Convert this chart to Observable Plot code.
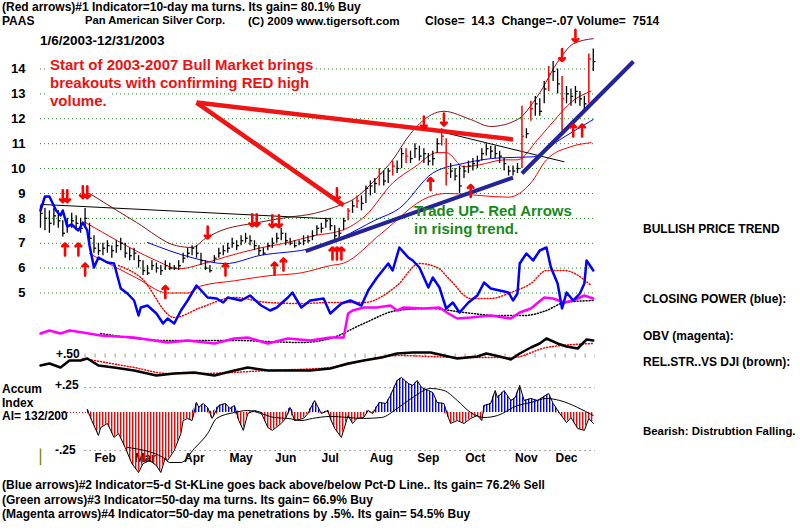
<!DOCTYPE html>
<html><head><meta charset="utf-8">
<script src="https://cdn.jsdelivr.net/npm/d3@7"></script>
<script src="https://cdn.jsdelivr.net/npm/@observablehq/plot@0.6"></script>
<style>
body{margin:0;background:#fff;}
#wrap{position:relative;width:800px;height:530px;overflow:hidden;background:#fff;font-family:"Liberation Sans",Arial,sans-serif;}
#wrap svg{position:absolute;left:0;top:0;background:transparent;}
.t{position:absolute;font-weight:bold;font-size:12px;color:#000;white-space:pre;line-height:1;}
</style></head><body><div id="wrap"></div>
<script>
// ---------- DATA ----------
const priceTicks = [5,6,7,8,9,10,11,12,13,14];
// two-trading-day bars (close, high, low), Jan 6 .. Dec 31 2003
const close = [8.2,8.0,7.8,8.1,7.9,7.4,7.7,7.9,7.8,7.6, 8.0,7.2,6.8,6.7,6.8,6.9,6.7,6.9,7.0,6.6,
 6.5,6.6,6.3,5.9,5.8,6.1,6.0,5.9,6.1,6.0, 6.0,6.1,6.4,6.6,6.8,6.6,6.3,6.0,5.9,6.4,
 6.6,6.7,6.8,7.0,6.9,7.1,7.2,7.1,6.9,6.7, 6.6,6.9,7.0,7.2,7.4,7.1,7.0,6.9,7.0,7.1,
 7.1,7.3,7.6,7.6,7.9,7.7,7.3,7.4,7.9,8.3, 8.5,8.7,8.6,9.2,9.3,9.4,9.8,9.5,9.9,10.1,
 10.0,10.6,10.5,10.4,10.8,10.5,10.6,10.3,10.4,11.0, 11.3,9.8,9.9,9.7,9.3,9.9,10.1,10.2,10.3,10.6,
 10.8,10.7,10.6,10.5,10.2,9.9,9.9,10.0,11.3,11.4, 12.4,12.6,12.3,13.2,13.8,13.9,13.4,12.8,13.0,12.9,
 13.1,12.8,12.6,14.4,14.3];
const high = [8.5,8.4,8.3,8.4,8.3,7.9,8.0,8.2,8.1,8.0, 8.4,7.8,7.3,7.0,7.0,7.1,6.9,7.1,7.2,7.0,
 6.8,6.8,6.5,6.3,6.1,6.3,6.2,6.1,6.3,6.2, 6.1,6.3,6.6,6.8,6.9,6.9,6.6,6.3,6.1,6.5,
 6.8,6.9,7.0,7.2,7.1,7.3,7.4,7.3,7.1,6.9, 6.8,7.0,7.2,7.4,7.6,7.4,7.2,7.1,7.1,7.3,
 7.3,7.5,7.7,7.8,8.0,8.0,7.7,7.6,8.0,8.4, 8.7,8.9,8.9,9.3,9.5,9.6,10.0,9.9,10.0,10.3,
 10.3,10.8,10.8,10.7,11.0,10.9,10.8,10.6,10.7,11.2, 11.6,11.2,10.2,10.0,10.1,10.1,10.3,10.4,10.5,10.8,
 11.0,10.9,10.9,10.7,10.4,10.1,10.1,10.2,12.5,11.6, 12.7,12.9,12.8,13.5,14.1,14.3,14.0,13.7,13.3,13.2,
 13.3,13.1,12.9,14.6,14.8];
const low = [7.6,7.5,7.4,7.7,7.6,7.25,7.4,7.6,7.5,7.4, 7.6,7.0,6.6,6.5,6.5,6.6,6.4,6.6,6.7,6.4,
 6.3,6.3,6.0,5.7,5.7,5.9,5.8,5.7,5.9,5.9, 5.9,5.9,6.2,6.4,6.5,6.4,6.1,5.9,5.8,6.2,
 6.4,6.5,6.6,6.8,6.7,6.9,7.0,6.9,6.7,6.5, 6.5,6.7,6.8,7.0,7.1,6.9,6.9,6.8,6.9,6.9,
 7.0,7.1,7.3,7.4,7.6,7.5,7.1,7.2,7.5,7.9, 8.2,8.4,8.3,8.6,8.9,9.0,9.3,9.3,9.4,9.7,
 9.8,10.0,10.2,10.2,10.4,10.3,10.2,10.1,10.1,10.6, 10.9,9.3,9.6,9.5,9.0,9.6,9.8,9.9,10.0,10.3,
 10.5,10.4,10.4,10.2,9.9,9.7,9.7,9.8,10.0,11.2, 11.9,12.1,12.1,12.6,13.1,13.5,13.0,11.5,12.6,12.5,
 12.6,12.5,12.3,12.6,13.9];
const redBars = [69,71,76,79,82,90,91,108,110,114,117,123];

// bands & moving averages: [trading day, price]
const upperBand = [[22,9.0],[43,7.84],[61,6.9],[68,6.83],[74,7.19],[79,7.43],[98,7.84],[111,8.04],[123,8.2],[132,8.45],[141,8.8],[150,9.54],[159,10.47],[164,11.16],[170,11.8],[181,12.3],[193,11.97],[202,11.69],[214,11.97],[223,12.91],[233,14.41],[239,15.01],[248,15.22]];
const ma21 = [[20,7.84],[28,7.43],[41,6.78],[52,6.3],[62,5.97],[73,6.18],[83,6.45],[98,6.8],[109,6.99],[123,7.31],[135,7.51],[146,8.12],[158,9.42],[168,10.07],[178,10.64],[182,10.64],[190,10.07],[197,10.15],[208,10.35],[214,10.35],[223,11.16],[232,12.09],[238,12.66],[247,13.11]];
const lowerBand = [[22,6.58],[43,5.61],[57,5.0],[66,5.0],[72,5.28],[87,5.49],[102,5.69],[117,5.81],[130,6.1],[136,6.2],[153,7.4],[174,8.85],[182,9.0],[210,8.85],[220,9.42],[227,10.35],[238,10.88],[247,11.04]];
const ma50 = [[48,7.03],[68,6.42],[83,6.18],[98,6.5],[123,6.83],[135,7.23],[150,7.92],[161,8.4],[176,9.82],[191,10.23],[206,10.43],[221,10.47],[233,11.16],[248,11.97]];

// signal arrows: [trading day, price at arrow tip]
const downArrows = [[10,8.65],[12,8.65],[19,8.81],[21,8.81],[75,7.19],[95,7.68],[97,7.68],[104,7.64],[107,7.64],[133,8.73],[172,11.61],[181,11.73],[234,14.32],[240,15.09]];
const upArrows = [[11,6.99],[17,6.99],[20,6.18],[56,5.28],[83,6.18],[105,6.22],[109,6.38],[131,6.83],[133,6.83],[135,6.83],[175,9.62],[193,9.34],[239,11.77],[243,11.77]];

// drawn trend lines: [day1, price1, day2, price2]
const redTrend = [[70,12.65,136,8.52],[70,12.65,212,11.17]];
const blueTrend = [[119,6.68,212,9.64],[216,9.8,266,14.3]];
const blackTrend = [[0,8.56,130,7.98],[181,11.45,235,10.27]];

// indicators (arbitrary units): [trading day, value]
const closingPower = [[0,85],[2,92],[4,92],[7,85],[9,82.5],[10,85],[12,77],[14,78],[17,75],[19,79],[21,75],[22,67.5],[24,56.5],[26,61.5],[30,59],[33,58.5],[36,46],[39,43.5],[42,40],[44,32.5],[45,36.5],[48,37.5],[52,33.5],[55,28.5],[57,31],[60,28.5],[63,35],[66,40],[70,47.5],[75,41.5],[79,41],[82,39],[84,41.5],[90,40],[94,42.5],[99,37.5],[103,35],[106,36.5],[111,41.5],[113,44],[117,36.5],[121,40],[127,41],[130,33.5],[135,38.5],[139,40],[144,37.5],[147,45],[151,51.5],[156,58.5],[158,55],[161,66.5],[165,61.5],[167,60],[170,56.5],[174,46.5],[176,51.5],[179,46.5],[182,36],[185,39],[188,34],[192,39],[196,42.5],[199,49],[202,46],[206,45],[210,44],[212,40],[214,43.5],[215,58.5],[218,63.5],[221,60],[224,65],[227,66.5],[229,56.5],[232,48.5],[234,36],[236,44],[239,40],[242,43.5],[244,48.5],[245,60],[248,55]];
const closingPowerMa = [[35,57.5],[45,51.5],[60,31.5],[72,36.5],[87,41.5],[102,39],[117,38.5],[130,39],[145,39],[160,47.5],[170,58.5],[178,56.5],[184,50],[193,41],[202,41],[211,44],[220,48.5],[227,55],[235,55],[247,47.5]];
const obv = [[0,23.5],[4,25],[9,23.5],[13,25],[19,24],[27,22.5],[42,21.5],[57,19],[66,20],[78,18.5],[87,21],[93,21.5],[102,18.5],[111,21],[121,20],[130,21.5],[136,21.5],[138,33.5],[140,35],[145,36.5],[151,36.5],[157,37.5],[160,35],[163,36.5],[172,36],[179,36.5],[183,33.5],[187,31],[193,31.5],[202,32.5],[211,31],[215,34],[220,36],[226,41.5],[230,41],[235,39],[239,40],[244,42.5],[248,41]];
const obvMa = [[27,23.5],[57,20],[87,20],[117,19],[130,21],[145,28.5],[160,35],[175,36],[190,34],[205,32.5],[217,32.5],[227,35],[235,39],[248,40]];
const relStr = [[0,7.5],[4,8.5],[9,6.5],[13,10],[18,10],[21,11],[26,7.5],[33,6.5],[42,5],[52,2.5],[60,3.5],[69,4],[78,2.5],[87,5],[93,6.5],[102,5],[111,5],[121,5],[130,6],[138,8.5],[145,10],[153,11.5],[160,13.5],[167,14],[175,14],[181,12.5],[187,11],[196,12],[200,13.5],[206,12],[211,10.5],[215,13.5],[220,16.5],[224,18.5],[227,21],[232,18.5],[236,17],[241,16],[245,20.5],[248,20]];
const relStrMa = [[19,11],[42,6.5],[57,3.5],[72,3.5],[102,5],[130,6.5],[160,12.5],[190,11.5],[212,11.5],[227,16.5],[248,18.5]];
const relStrRef = [12.5];

// Accumulation index: [trading day, AI]
const accum = [[21,0.03],[23,-0.053],[26,-0.151],[27,-0.099],[30,-0.072],[33,-0.164],[35,-0.138],[38,-0.23],[41,-0.336],[44,-0.395],[46,-0.336],[49,-0.316],[52,-0.349],[54,-0.395],[56,-0.296],[57,-0.316],[60,-0.25],[63,-0.138],[64,-0.053],[66,-0.039],[68,-0.053],[70,0.10],[71,0.05],[73,0.09],[75,0.05],[77,-0.039],[80,0.07],[83,0.09],[85,0.04],[87,0.07],[89,-0.053],[91,-0.118],[93,-0.007],[96,0.02],[99,0],[102,-0.099],[104,-0.118],[108,-0.072],[110,-0.039],[112,0.05],[114,-0.053],[118,-0.039],[120,-0.007],[123,0.12],[126,-0.007],[129,0.02],[130,-0.039],[132,-0.105],[135,-0.164],[138,-0.02],[140,-0.072],[142,-0.039],[145,-0.033],[147,0.02],[149,-0.007],[152,0.10],[155,0.09],[157,0.17],[160,0.32],[162,0.35],[165,0.29],[167,0.27],[169,0.32],[171,0.25],[174,0.22],[176,0.20],[178,0.10],[181,0.09],[183,-0.033],[184,-0.072],[187,-0.053],[190,-0.072],[193,-0.039],[196,-0.02],[198,-0.053],[199,0.07],[202,0.09],[204,0.22],[205,0.15],[208,0.22],[211,0.12],[213,0.15],[215,0.27],[217,0.12],[220,0.14],[223,0.12],[228,0.19],[230,0.09],[233,-0.007],[236,-0.066],[238,-0.033],[241,-0.105],[244,-0.118],[246,-0.039],[248,-0.072]];
const accumMa = [[39,-0.23],[55,-0.296],[58,-0.329],[63,-0.329],[69,-0.237],[75,-0.138],[79,-0.039],[87,0],[93,0.02],[99,-0.007],[105,-0.033],[111,-0.039],[117,-0.053],[122,-0.039],[130,-0.026],[145,-0.039],[153,-0.033],[160,0.04],[167,0.15],[175,0.24],[181,0.22],[187,0.12],[193,0],[199,-0.033],[205,-0.02],[214,0.07],[220,0.10],[227,0.14],[233,0.12],[241,0.05],[248,-0.02]];
const aiTicks = [0.25, -0.25];
const monthNames = ["Feb","Mar","Apr","May","Jun","Jul","Aug","Sep","Oct","Nov","Dec"];
const monthDay = [29,47,69,90,110,130,153,174,195,218,236];

// ---------- DRAW ----------
const FONT = '"Liberation Sans", Arial, sans-serif';
const wrap = document.getElementById("wrap");
const bars = close.map((c, k) => ({i: 2 * k, c, h: high[k], l: low[k], red: redBars.includes(k)}));
const X = {domain: [0, 249], axis: null};
const base = {width: 800, height: 530, marginLeft: 40, marginRight: 205, marginTop: 0,
  style: {background: "transparent", fontFamily: FONT}};
const px = d => d[0], py = d => d[1];

const pricePlot = Plot.plot({...base, marginBottom: 0, x: X,
  y: {domain: [5, 14], range: [292.5, 68.5], axis: null},
  marks: [
    Plot.ruleY(priceTicks, {stroke: "#1e8c1e", strokeDasharray: "1,3"}),
    Plot.text(priceTicks, {y: d => d, frameAnchor: "left", textAnchor: "end", dx: -15, text: d => String(d), fontSize: 13, fontWeight: "bold", fill: "black"}),
    Plot.line(upperBand, {x: px, y: py, stroke: "#8b1010", strokeWidth: 1, curve: "monotone-x"}),
    Plot.line(lowerBand, {x: px, y: py, stroke: "#ff0000", strokeWidth: 1, curve: "monotone-x"}),
    Plot.line(ma21, {x: px, y: py, stroke: "#ff0000", strokeWidth: 1, curve: "monotone-x"}),
    Plot.line(ma50, {x: px, y: py, stroke: "#0000ff", strokeWidth: 1, curve: "monotone-x"}),
    Plot.link(blackTrend, {x1: d => d[0], y1: d => d[1], x2: d => d[2], y2: d => d[3], stroke: "black", strokeWidth: 1}),
    Plot.ruleX(bars.filter(d => !d.red), {x: "i", y1: "l", y2: "h", stroke: "black", strokeWidth: 1.3}),
    Plot.link(bars.filter(d => !d.red), {x1: "i", x2: d => d.i + 1, y1: "c", y2: "c", stroke: "black", strokeWidth: 1.3}),
    Plot.ruleX(bars.filter(d => d.red), {x: "i", y1: "l", y2: "h", stroke: "#ff0000", strokeWidth: 1.5}),
    Plot.link(bars.filter(d => d.red), {x1: "i", x2: d => d.i + 1, y1: "c", y2: "c", stroke: "#ff0000", strokeWidth: 1.3}),
    Plot.link(redTrend, {x1: d => d[0], y1: d => d[1], x2: d => d[2], y2: d => d[3], stroke: "#f01414", strokeWidth: 4.5}),
    Plot.link(blueTrend, {x1: d => d[0], y1: d => d[1], x2: d => d[2], y2: d => d[3], stroke: "#24249a", strokeWidth: 4}),
    Plot.arrow(downArrows, {x1: px, x2: px, y1: d => d[1] + 0.48, y2: py, stroke: "#ff0000", strokeWidth: 2.6, headLength: 5, headAngle: 90}),
    Plot.arrow(upArrows, {x1: px, x2: px, y1: d => d[1] - 0.48, y2: py, stroke: "#ff0000", strokeWidth: 2.6, headLength: 5, headAngle: 90})
  ]
});

const indPlot = Plot.plot({...base, marginBottom: 0, x: X,
  y: {domain: [0, 95], range: [380, 190], axis: null},
  marks: [
    Plot.ruleY(relStrRef, {x1: () => 20, x2: () => 249, stroke: "#999", strokeWidth: 4, strokeDasharray: "1,9"}),
    Plot.line(relStrMa, {x: px, y: py, stroke: "#ff0000", strokeDasharray: "1,2", curve: "monotone-x"}),
    Plot.line(relStr, {x: px, y: py, stroke: "black", strokeWidth: 2.5}),
    Plot.line(obvMa, {x: px, y: py, stroke: "black", strokeDasharray: "1,2", curve: "monotone-x"}),
    Plot.line(obv, {x: px, y: py, stroke: "#ff00ff", strokeWidth: 2.5}),
    Plot.line(closingPowerMa, {x: px, y: py, stroke: "#ff0000", strokeDasharray: "1,2", curve: "monotone-x"}),
    Plot.line(closingPower, {x: px, y: py, stroke: "#0000ff", strokeWidth: 2.5})
  ]
});

// AI axis: the negative half is drawn 1.52x taller than the positive half, as in the source chart
const aiStretch = v => (v < 0 ? v * 1.52 : v);
const aiPlot = Plot.plot({...base, marginBottom: 72.5, x: X,
  y: {domain: [-0.38, 0.25], range: [450, 387], transform: aiStretch, axis: null},
  marks: [
    Plot.ruleY(aiTicks, {x1: () => 20, x2: () => 249, stroke: "#555", strokeDasharray: "1,4"}),
    Plot.ruleY([0], {x1: () => 0, x2: () => 21, stroke: "#ff0000", strokeDasharray: "1,2"}),
    Plot.ruleX([0], {y1: () => -0.24, y2: () => -0.35, stroke: "#8b8b20", strokeWidth: 1.5}),
    Plot.text(monthNames, {x: (d, i) => monthDay[i], frameAnchor: "bottom", lineAnchor: "middle", text: d => d, fontWeight: "bold", fontSize: 12, fill: "black"}),
    Plot.areaY(accum, {x: px, y1: () => 0, y2: d => Math.max(0, d[1]), fill: "url(#bstripe)"}),
    Plot.areaY(accum, {x: px, y1: () => 0, y2: d => Math.min(0, d[1]), fill: "url(#rstripe)"}),
    Plot.line(accum, {x: px, y: py, stroke: "black", strokeWidth: 1}),
    Plot.line(accumMa, {x: px, y: py, stroke: "black", strokeWidth: 1, curve: "monotone-x"})
  ]
});
const defs = d3.select(aiPlot).insert("defs", ":first-child");
[["bstripe", "#0000ff"], ["rstripe", "#ff0000"]].forEach(([id, c]) => {
  defs.append("pattern").attr("id", id).attr("patternUnits", "userSpaceOnUse")
    .attr("width", 3).attr("height", 4)
    .append("rect").attr("x", 0).attr("y", 0).attr("width", 1.4).attr("height", 4).attr("fill", c);
});

wrap.append(pricePlot, indPlot, aiPlot);

// ---------- TEXT ----------
const texts = [
  ["(Red arrows)#1 Indicator=10-day ma turns. Its gain= 80.1% Buy", 2, 0.5],
  ["PAAS", 2, 15],
  ["Pan American Silver Corp.", 85, 15, "11.2px"],
  ["(C) 2009 www.tigersoft.com", 248, 15, "11.6px"],
  ["Close=  14.3  Change=-.07 Volume=  7514", 425, 15],
  ["BULLISH PRICE TREND", 643, 223],
  ["CLOSING POWER (blue):", 643, 293],
  ["OBV (magenta):", 643, 330],
  ["REL.STR..VS DJI (brown):", 643, 356],
  ["Bearish: Distrubtion Falling.", 643, 425.5, "11.4px"],
  ["Accum", 2, 382.5],
  ["Index", 2, 396.5],
  ["AI= 132/200", 2, 410],
  ["+.25", 55, 379],
  ["-.25", 55, 444],
  ["+.50", 56, 348],
  ["(Blue arrows)#2 Indicator=5-d St-KLine goes back above/below Pct-D Line.. Its gain= 76.2% Sell", 2, 479],
  ["(Green arrows)#3 Indicator=50-day ma turns. Its gain= 66.9% Buy", 2, 494],
  ["(Magenta arrows)#4 Indicator=50-day ma penetrations by .5%. Its gain= 54.5% Buy", 2, 508]
];
function addText(s, x, y, extra) {
  const d = document.createElement("div");
  d.className = "t";
  d.textContent = s;
  d.style.left = x + "px";
  d.style.top = y + "px";
  if (extra) Object.assign(d.style, extra);
  wrap.appendChild(d);
}
texts.forEach(([s, x, y, fs]) => addText(s, x, y, fs ? {fontSize: fs} : null));
addText("1/6/2003-12/31/2003", 40, 33.6, {fontSize: "13.5px"});
const redNote = ["Start of 2003-2007 Bull Market brings", "breakouts with confirming RED high", "volume."];
redNote.forEach((s, k) => addText(s, 48, 57.3 + 17.7 * k,
  {fontSize: "15px", color: "#ee1111", background: "#fff", padding: "0 3px 3px 2px"}));
const greenNote = ["Trade UP- Red Arrows", "in rising trend."];
greenNote.forEach((s, k) => addText(s, 414, 203.3 + 17.5 * k, {fontSize: "15px", color: "#178a17"}));
</script></body></html>
